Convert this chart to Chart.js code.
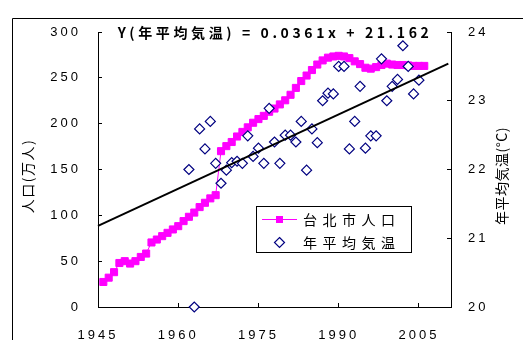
<!DOCTYPE html>
<html><head><meta charset="utf-8">
<script src="https://cdn.jsdelivr.net/npm/chart.js@4.4.0/dist/chart.umd.min.js"></script>
<style>
html,body{margin:0;padding:0;background:#fff;}
canvas{display:block;}
</style></head><body>
<canvas id="c" width="523" height="340"></canvas>
<script>
// ---- data ----
const popYears = [1946,1947,1948,1949,1950,1951,1952,1953,1954,1955,1956,1957,1958,1959,1960,1961,1962,1963,1964,1965,1966,1967,1968,1969,1970,1971,1972,1973,1974,1975,1976,1977,1978,1979,1980,1981,1982,1983,1984,1985,1986,1987,1988,1989,1990,1991,1992,1993,1994,1995,1996,1997,1998,1999,2000,2001,2002,2003,2004,2005,2006];
const popValues = [27.3,32,38,48,50,47.4,50,54.6,58.3,70.4,73.6,77.3,80.9,84.6,88.2,93.7,98.4,103,109,113.7,118.5,122,170,175.5,180,186,191,196,201,205,208.5,213,216.5,221,225.5,231.5,239,246.5,252.5,258.5,264.5,269,272,273.3,274,273.3,271.5,268,265,261,260,261.7,264,265.5,264.5,264,264,263.5,263,263,263];
const tempYears = [1962,1963,1964,1965,1966,1967,1968,1969,1970,1971,1972,1973,1974,1975,1976,1977,1978,1979,1980,1981,1982,1983,1984,1985,1986,1987,1988,1989,1990,1991,1992,1993,1994,1995,1996,1997,1998,1999,2000,2001,2002,2003,2004,2005];
const tempValues = [22.00,20.00,22.59,22.30,22.70,22.09,21.80,21.99,22.10,22.12,22.09,22.49,22.19,22.31,22.09,22.89,22.40,22.09,22.50,22.50,22.40,22.70,21.99,22.59,22.39,23.00,23.11,23.10,23.50,23.50,22.30,22.70,23.21,22.31,22.49,22.49,23.61,23.00,23.21,23.31,23.80,23.50,23.10,23.30];
const trendYears = [1945, 2010.5];
const trendValues = [21.18, 23.54];
const xTicks = [1945,1960,1975,1990,2005];
const yTicks = [0,50,100,150,200,250,300];
const y2Ticks = [20,21,22,23,24];
const titleText = 'Y(年平均気温) = 0.0361x + 21.162';
const yTitle = '人口(万人)';
const y2Title = '年平均気温(°C)';
const legendLabels = ['台北市人口','年平均気温'];

const POP_COLOR = '#FF00FF';
const TEMP_COLOR = '#000080';

const pts = (xs, ys) => xs.map((x, i) => ({x, y: ys[i]}));
const setTicks = arr => scale => { scale.ticks = arr.map(v => ({value: v})); };

const deco = {
  id: 'deco',
  beforeDraw(chart) { chart.ctx.letterSpacing = '3px'; },
  afterDraw(chart) {
    const ctx = chart.ctx;
    ctx.save();
    ctx.strokeStyle = '#000'; ctx.lineWidth = 1;
    ctx.beginPath(); ctx.moveTo(12.5, 340); ctx.lineTo(12.5, 18.5); ctx.lineTo(523, 18.5); ctx.stroke();
    // title
    ctx.fillStyle = '#000';
    ctx.font = 'bold 14px "Noto Sans CJK JP"';
    ctx.letterSpacing = '3.6px';
    ctx.textAlign = 'center'; ctx.textBaseline = 'middle';
    ctx.fillText(titleText, 275, 33);
    // axis titles
    ctx.font = '14px "Noto Sans CJK JP"';
    ctx.letterSpacing = '1.5px';
    ctx.save(); ctx.translate(28, 176); ctx.rotate(-Math.PI/2); ctx.fillText(yTitle, 0, 0); ctx.restore();
    ctx.letterSpacing = '0.5px';
    ctx.save(); ctx.translate(502, 176); ctx.rotate(-Math.PI/2); ctx.fillText(y2Title, 0, 0); ctx.restore();
    // legend
    ctx.fillStyle = '#fff';
    ctx.fillRect(256.5, 206.5, 155, 46);
    ctx.strokeStyle = '#000'; ctx.strokeRect(256.5, 206.5, 155, 46);
    ctx.strokeStyle = POP_COLOR; ctx.lineWidth = 1;
    ctx.beginPath(); ctx.moveTo(262, 219.5); ctx.lineTo(297, 219.5); ctx.stroke();
    ctx.fillStyle = POP_COLOR; ctx.fillRect(276, 216, 7, 7);
    ctx.strokeStyle = TEMP_COLOR; ctx.lineWidth = 1.2; ctx.fillStyle = '#fff';
    ctx.beginPath(); ctx.moveTo(279.5, 237.5); ctx.lineTo(284.5, 242.5); ctx.lineTo(279.5, 247.5); ctx.lineTo(274.5, 242.5); ctx.closePath(); ctx.fill(); ctx.stroke();
    ctx.fillStyle = '#000';
    ctx.font = '14px "Noto Sans CJK JP"';
    ctx.letterSpacing = '5.5px';
    ctx.textAlign = 'left';
    ctx.fillText(legendLabels[0], 303, 219.5);
    ctx.fillText(legendLabels[1], 303, 242.5);
    ctx.restore();
  }
};

const tickFont = {family: '"Liberation Sans", Arial, sans-serif', size: 13};
const gridOpts = {drawOnChartArea: false, drawTicks: true, tickLength: -4, color: '#000', lineWidth: 1};
const plain = v => String(v);

new Chart(document.getElementById('c'), {
  type: 'scatter',
  data: {
    datasets: [
      {label: 'trend', data: pts(trendYears, trendValues), yAxisID: 'y2', showLine: true, pointRadius: 0, borderColor: '#000', borderWidth: 2, clip: false},
      {label: legendLabels[1], data: pts(tempYears, tempValues), yAxisID: 'y2', pointStyle: 'rectRot', pointRadius: 5, borderColor: TEMP_COLOR, backgroundColor: '#fff', borderWidth: 1.2, clip: false},
      {label: legendLabels[0], data: pts(popYears, popValues), yAxisID: 'y', showLine: true, pointStyle: 'rect', pointRadius: 5, borderColor: POP_COLOR, backgroundColor: POP_COLOR, borderWidth: 1, clip: false}
    ]
  },
  options: {
    responsive: false,
    animation: false,
    layout: {padding: {top: 32, left: 0, right: 0, bottom: 0}},
    plugins: {legend: {display: false}, tooltip: {enabled: false}, title: {display: false}},
    scales: {
      x: {type: 'linear', min: 1945, max: 2011, afterBuildTicks: setTicks(xTicks),
          afterFit: s => { s.height = 33; },
          grid: gridOpts, border: {display: true, color: '#000', width: 1},
          ticks: {font: tickFont, color: '#000', padding: 25, maxRotation: 0, autoSkip: false, callback: plain}},
      y: {type: 'linear', position: 'left', min: 0, max: 300, afterBuildTicks: setTicks(yTicks),
          afterFit: s => { s.width = 98; },
          grid: gridOpts, border: {display: true, color: '#000', width: 1},
          ticks: {font: tickFont, color: '#000', padding: 21, callback: plain}},
      y2: {type: 'linear', position: 'right', min: 20, max: 24, afterBuildTicks: setTicks(y2Ticks),
          afterFit: s => { s.width = 72; },
          grid: gridOpts, border: {display: true, color: '#000', width: 1},
          ticks: {font: tickFont, color: '#000', padding: 21, callback: plain}}
    }
  },
  plugins: [deco]
});
</script>
</body></html>
